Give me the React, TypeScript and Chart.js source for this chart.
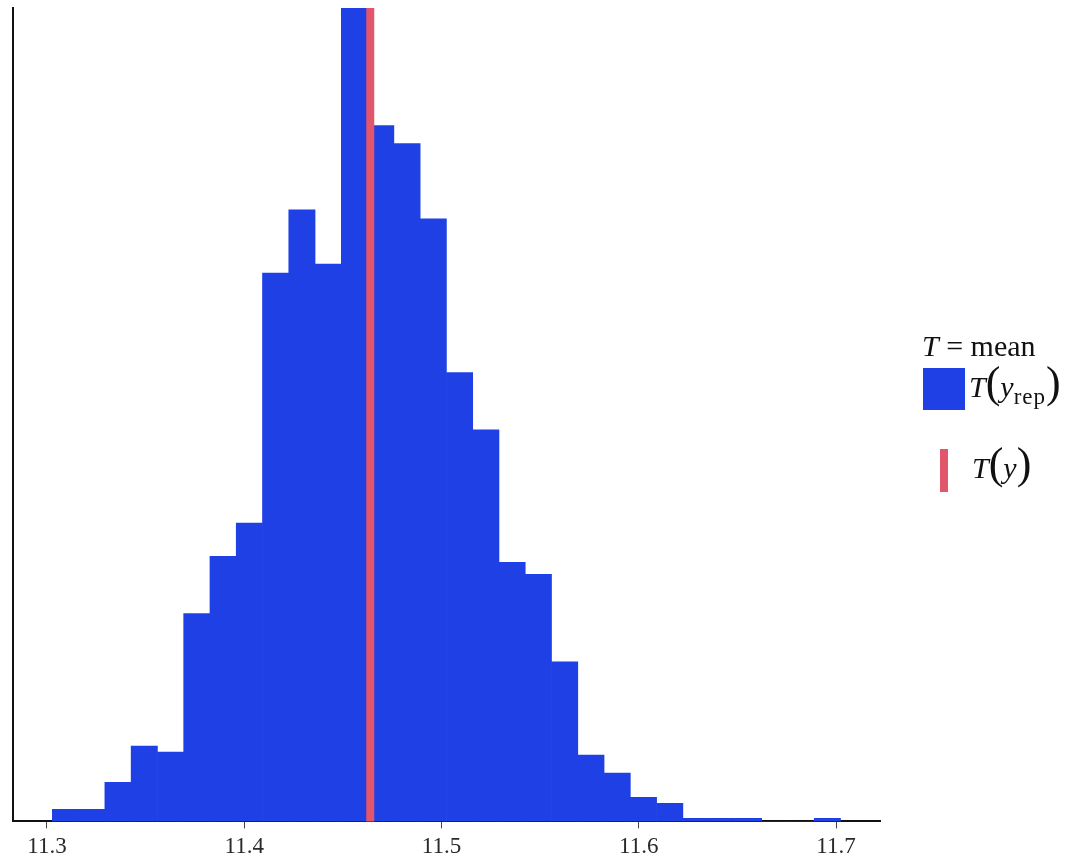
import React, { useEffect, useRef } from "react";
import { Chart, registerables } from "chart.js";

Chart.register(...registerables);

// Histogram of replicated statistic T(y_rep), T = mean
const binStart = 11.30274;
const binWidth = 0.013318;
const binCounts = [
  4, 4, 13, 25, 23, 69, 88, 99, 182, 203,
  185, 270, 231, 225, 200, 149, 130, 86, 82, 53,
  22, 16, 8, 6, 1, 1, 1, 0, 0, 1,
];
// Observed statistic T(y)
const observedMean = [11.4639];
const tickValues = [11.3, 11.4, 11.5, 11.6, 11.7];
const xRange = [11.2828, 11.7223];

const BLUE = "#1f40e5";
const RED = "#e2566c";
const SERIF = "'Liberation Serif', 'Times New Roman', serif";

const binCenters = binCounts.map((_, i) => binStart + (i + 0.5) * binWidth);

const obsLinePlugin = {
  id: "obsLine",
  afterDatasetsDraw(chart: any) {
    const { ctx, chartArea, scales } = chart;
    const x = scales.x.getPixelForValue(observedMean[0]);
    ctx.save();
    ctx.fillStyle = RED;
    ctx.fillRect(x - 4, chartArea.top, 8, chartArea.bottom - chartArea.top);
    ctx.restore();
  },
};

export default function App() {
  const ref = useRef<HTMLCanvasElement | null>(null);

  useEffect(() => {
    if (!ref.current) return;
    const chart = new Chart(ref.current, {
      type: "bar",
      data: {
        datasets: [
          {
            label: "T(yrep)",
            data: binCenters.map((c, i) => ({ x: c, y: binCounts[i] })),
            backgroundColor: BLUE,
            borderWidth: 0,
            barPercentage: 1,
            categoryPercentage: 1,
          },
        ],
      },
      options: {
        animation: false,
        responsive: false,
        devicePixelRatio: 1,
        layout: { padding: { left: 13, right: 200, top: 8, bottom: -2 } },
        plugins: { legend: { display: false }, tooltip: { enabled: false } },
        scales: {
          x: {
            type: "linear",
            min: xRange[0],
            max: xRange[1],
            offset: false,
            grid: {
              display: true,
              offset: false,
              drawOnChartArea: false,
              drawTicks: true,
              tickLength: 7,
              color: "#444",
              lineWidth: 1,
            },
            border: { display: true, color: "#111", width: 2 },
            ticks: {
              autoSkip: false,
              maxRotation: 0,
              padding: 5,
              color: "#2a2a2a",
              font: { family: SERIF, size: 23 },
              callback: (v: any) => Number(v).toFixed(1),
            },
            afterBuildTicks: (s: any) => {
              s.ticks = tickValues.map((v) => ({ value: v }));
            },
          },
          y: {
            min: 0,
            max: Math.max(...binCounts),
            grid: { display: false, drawTicks: false },
            border: { display: true, color: "#111", width: 2 },
            ticks: { display: false },
          },
        },
      },
      plugins: [obsLinePlugin],
    } as any);
    return () => chart.destroy();
  }, []);

  const txt: React.CSSProperties = {
    position: "absolute",
    fontFamily: SERIF,
    fontSize: 30,
    lineHeight: "40px",
    color: "#111",
    whiteSpace: "nowrap",
  };
  const paren: React.CSSProperties = { fontSize: 44, fontWeight: 300 };

  return (
    <div
      style={{
        position: "fixed",
        left: 0,
        top: 0,
        width: 1080,
        height: 864,
        background: "#fff",
      }}
    >
      <canvas ref={ref} width={1080} height={864} style={{ display: "block" }} />
      <div style={{ ...txt, left: 922, top: 326 }}>
        <i>T</i>
        <span style={{ margin: "0 0.25em" }}>=</span>mean
      </div>
      <div
        style={{
          position: "absolute",
          left: 923,
          top: 368,
          width: 42,
          height: 42,
          background: BLUE,
        }}
      />
      <div style={{ ...txt, left: 969, top: 363 }}>
        <i>T</i>
        <span style={paren}>(</span>
        <i>y</i>
        <span style={{ fontSize: 23, position: "relative", top: 7, letterSpacing: 1 }}>rep</span>
        <span style={paren}>)</span>
      </div>
      <div
        style={{
          position: "absolute",
          left: 940,
          top: 449,
          width: 8,
          height: 43,
          background: RED,
        }}
      />
      <div style={{ ...txt, left: 972, top: 444 }}>
        <i>T</i>
        <span style={paren}>(</span>
        <i>y</i>
        <span style={paren}>)</span>
      </div>
    </div>
  );
}
